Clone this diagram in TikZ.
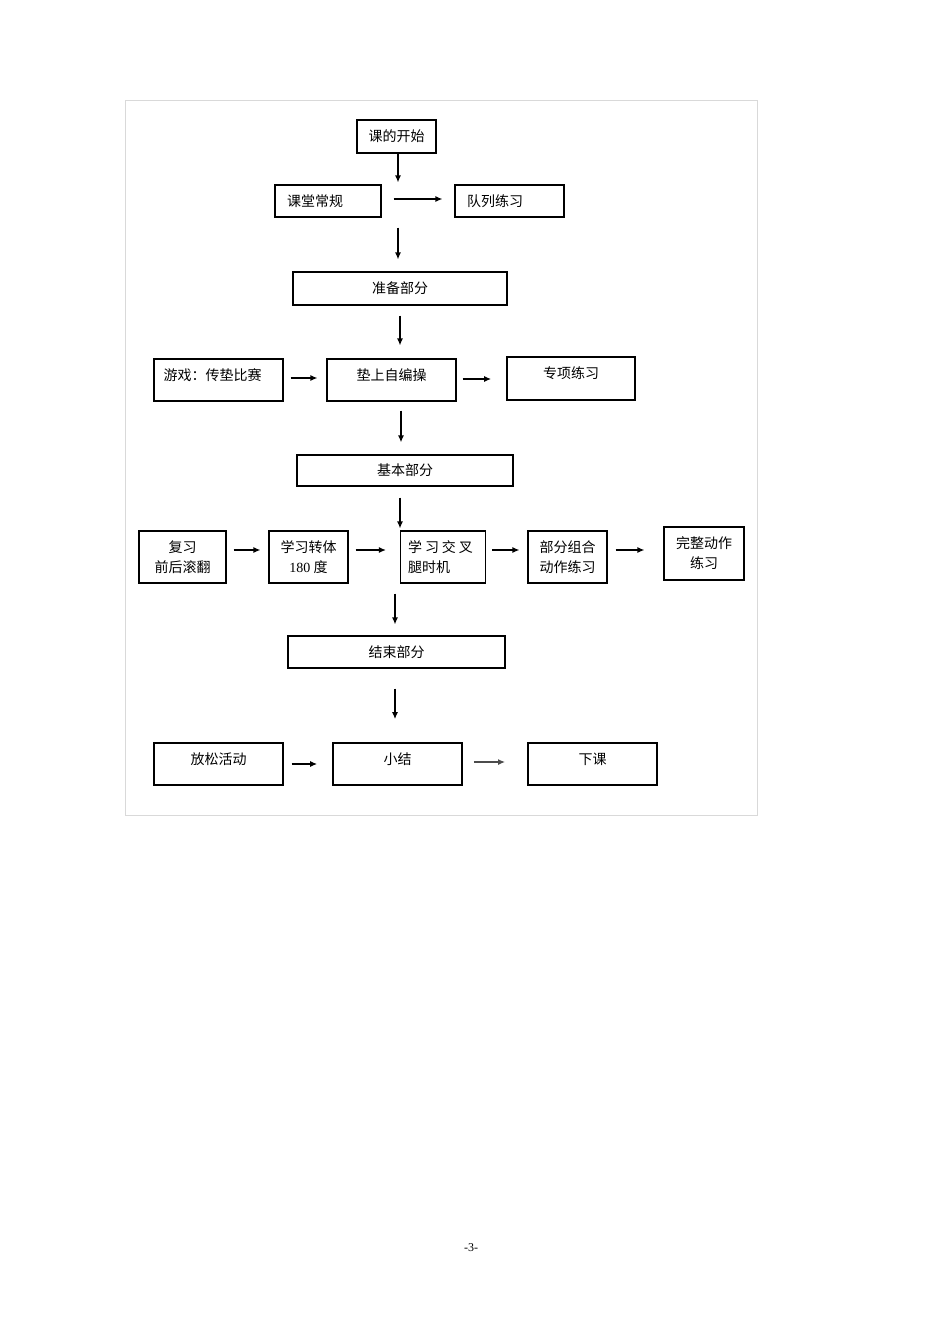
\documentclass[tikz,border=0pt]{standalone}
\usepackage{fontspec}
\newfontfamily\cjk{Noto Sans CJK SC}
\newfontfamily\lat{Liberation Serif}
\usetikzlibrary{arrows.meta}
\begin{document}
\begin{tikzpicture}[x=1pt,y=-1pt,
  box/.style={draw,line width=1.2pt,inner sep=0pt,font=\cjk\fontsize{14}{20}\selectfont,align=center},
  thick box/.style={box,line width=1.8pt},
  arr/.style={line width=1.2pt,-{Latex[length=7pt,width=6pt]}},
  frame/.style={draw=black!15,line width=0.8pt}]
\useasboundingbox (0,0) rectangle (950,1344);
\draw[frame] (125,100) rectangle (757,815);
% nodes
\node[thick box,minimum width=79pt,minimum height=33pt] (start) at (396.5,136.5) {课的开始};
\node[box,minimum width=106pt,minimum height=32pt,text width=82pt,align=left] (changgui) at (328,201) {课堂常规};
\node[box,minimum width=109pt,minimum height=32pt,text width=85pt,align=left] (duilie) at (509.5,201) {队列练习};
\node[box,minimum width=214pt,minimum height=33pt] (zhunbei) at (400,288.5) {准备部分};
\node[box,minimum width=129pt,minimum height=42pt,text width=110pt,align=left,text depth=11pt] (youxi) at (218.5,380) {游戏：传垫比赛};
\node[box,minimum width=129pt,minimum height=42pt,text depth=11pt] (dianshang) at (391.5,380) {垫上自编操};
\node[thick box,minimum width=128pt,minimum height=43pt,text depth=12pt] (zhuanxiang) at (571,378.5) {专项练习};
\node[box,minimum width=216pt,minimum height=31pt] (jiben) at (405,470.5) {基本部分};
\node[box,minimum width=87pt,minimum height=52pt] (fuxi) at (182.5,557) {复习\\前后滚翻};
\node[box,minimum width=79pt,minimum height=52pt] (zhuanti) at (308.5,557) {学习转体\\{\lat 180} 度};
\node[box,minimum width=85pt,minimum height=52pt,text width=70pt,align=left] (jiaocha) at (443,557) {\mbox{学\hspace{3pt}习\hspace{3pt}交\hspace{3pt}叉}\\腿时机};
\node[box,minimum width=79pt,minimum height=52pt] (zuhe) at (567.5,557) {部分组合\\动作练习};
\node[box,minimum width=80pt,minimum height=53pt] (wanzheng) at (704,553.5) {完整动作\\练习};
\node[box,minimum width=217pt,minimum height=32pt] (jieshu) at (396.5,652) {结束部分};
\node[box,minimum width=129pt,minimum height=42pt,text depth=11pt] (fangsong) at (218.5,764) {放松活动};
\node[thick box,minimum width=129pt,minimum height=42pt,text depth=11pt] (xiaojie) at (397.5,764) {小结};
\node[thick box,minimum width=129pt,minimum height=42pt,text depth=11pt] (xiake) at (592.5,764) {下课};
\node[font=\lat\fontsize{12}{14}\selectfont] (page) at (471,1248) {-3-};
% connectors
\draw[arr,shorten >=2pt] ([xshift=1.5pt]start.south) -- ([xshift=1.5pt]start.south |- changgui.north);
\draw[arr,shorten <=12pt,shorten >=12pt] ([yshift=2pt]changgui.east) -- ([yshift=2pt]duilie.west);
\draw[arr,shorten <=10pt,shorten >=12pt] ([xshift=1.5pt]start.south |- changgui.south) -- ([xshift=1.5pt]start.south |- zhunbei.north);
\draw[arr,shorten <=10pt,shorten >=13pt] (zhunbei.south) -- (zhunbei.south |- dianshang.north);
\draw[arr,shorten <=7pt,shorten >=9pt] ([yshift=2pt]youxi.east) -- ([yshift=2pt]dianshang.west);
\draw[arr,shorten <=6pt,shorten >=15pt] ([yshift=1pt]dianshang.east) -- ([yshift=1pt]dianshang.east -| zhuanxiang.west);
\draw[arr,line width=1.8pt,shorten <=9pt,shorten >=12pt] ([xshift=9.5pt]dianshang.south) -- ([xshift=9.5pt]dianshang.south |- jiben.north);
\draw[arr,shorten <=11pt,shorten >=2pt] ([xshift=-43pt]jiaocha.north |- jiben.south) -- ([xshift=-43pt]jiaocha.north);
\draw[arr,shorten <=7pt,shorten >=8pt] ([yshift=7pt]fuxi.east) -- ([yshift=7pt]zhuanti.west);
\draw[arr,shorten <=7pt,shorten >=14pt] ([yshift=7pt]zhuanti.east) -- ([yshift=7pt]jiaocha.west);
\draw[arr,shorten <=6pt,shorten >=8pt] ([yshift=7pt]jiaocha.east) -- ([yshift=7pt]zuhe.west);
\draw[arr,shorten <=8pt,shorten >=19pt] ([yshift=7pt]zuhe.east) -- ([yshift=7pt]zuhe.east -| wanzheng.west);
\draw[arr,shorten <=10pt,shorten >=11pt] ([xshift=-1.5pt]jieshu.north |- jiaocha.south) -- ([xshift=-1.5pt]jieshu.north);
\draw[arr,shorten <=20pt,shorten >=23pt] ([xshift=-1.5pt]jieshu.south) -- ([xshift=-1.5pt]jieshu.south |- xiaojie.north);
\draw[arr,shorten <=8pt,shorten >=15pt] (fangsong.east) -- (xiaojie.west);
\draw[arr,line width=1.6pt,draw=black!70,shorten <=11pt,shorten >=22pt] ([yshift=2pt]xiaojie.east) -- ([yshift=2pt]xiake.west);
\end{tikzpicture}
\end{document}
